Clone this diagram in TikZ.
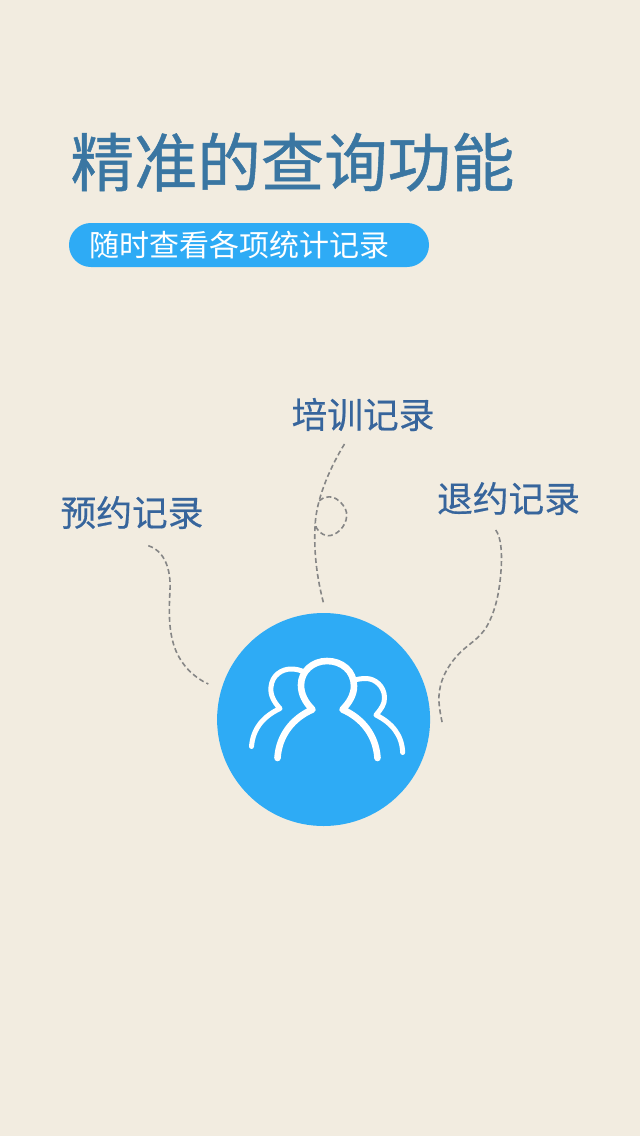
\documentclass[tikz,border=0pt]{standalone}
\usepackage{fontspec}
\setmainfont{Noto Sans CJK SC}
\newfontfamily\titlefont[FakeBold=0.8]{Noto Sans CJK SC}
\newfontfamily\labelfont[FakeBold=0.5]{Noto Sans CJK SC}
\definecolor{bgc}{HTML}{F2ECE0}
\definecolor{bluec}{HTML}{2EABF5}
\definecolor{titlec}{HTML}{3A76A2}
\definecolor{labelc}{HTML}{37659C}
\definecolor{dashc}{HTML}{868686}
\tikzset{
  titletext/.style={text=titlec,font=\titlefont\fontsize{63.4}{64}\selectfont,inner sep=0pt},
  subtext/.style={text=white,font=\fontsize{30}{30}\selectfont,inner sep=0pt},
  labeltext/.style={text=labelc,font=\labelfont\fontsize{35.7}{36}\selectfont,inner sep=0pt},
  dashline/.style={draw=dashc,line width=1.6pt,dash pattern=on 5pt off 3pt,line cap=butt},
  figfront/.style={draw=white,line width=6.6pt,line cap=round,line join=round},
  figback/.style={draw=white,line width=5pt,line cap=round,line join=round},
}
\begin{document}
\begin{tikzpicture}[x=1pt,y=-1pt]
\useasboundingbox (0,0) rectangle (640,1136);
\fill[bgc] (0,0) rectangle (640,1136);
\node[titletext] (title) at (292.5,162) {精准的查询功能};
\fill[bluec,rounded corners=21.9pt] (69,223) rectangle (429,267);
\node[subtext] (sub) at (239,245) {随时查看各项统计记录};
\node[labeltext] (lyuyue) at (132,512.5) {预约记录};
\node[labeltext] (lpeixun) at (363,414.5) {培训记录};
\node[labeltext] (ltuiyue) at (508.5,498.5) {退约记录};
\node[circle,fill=bluec,draw=none,minimum size=213pt,inner sep=0pt] (hub) at (323.6,719.5) {};
% dashed connectors
\coordinate (a1) at (148.3,545.7);
\coordinate (a2) at (208.3,684);
\draw[dashline] (a1) .. controls (165,551) and (171,570) .. (170,590)
  .. controls (169,610) and (168,632) .. (176,651)
  .. controls (183,667) and (195,678) .. (a2);
\coordinate (b1) at (344.5,444);
\coordinate (b2) at (323.5,603);
\draw[dashline] (b1) .. controls (331,466) and (318,495) .. (315.5,520)
  .. controls (313,550) and (317,578) .. (b2);
\draw[dashline] (319.3,500.7) .. controls (324,496) and (333,495) .. (339,501)
  .. controls (345,506) and (347,511) .. (346.7,516)
  .. controls (346,527) and (336,536) .. (328,535.7)
  .. controls (321,535) and (316,530) .. (315,523);
\coordinate (c1) at (495.7,530);
\coordinate (c2) at (442.3,723);
\draw[dashline] (c1) .. controls (501,537) and (502,552) .. (501.3,566)
  .. controls (500,590) and (496,610) .. (487,626)
  .. controls (479,640) and (466,645) .. (456,657)
  .. controls (443,672) and (438,688) .. (439,702)
  .. controls (439.5,710) and (441,717) .. (c2);
% people icon
\draw[figback] (251.5,746.5) .. controls (253,728) and (264,716) .. (280,708.5)
  .. controls (274,702) and (270,695) .. (271,687)
  .. controls (272,675) and (282,669) .. (291,669)
  .. controls (296,669) and (300,670) .. (304,672);
\draw[figback] (402.7,752.5) .. controls (402,735) and (392,723) .. (376,715)
  .. controls (381,709) and (385,704) .. (384.5,697)
  .. controls (384,686) and (375,678.5) .. (366,678.5)
  .. controls (362,678.5) and (358,679) .. (355,680);
\draw[figfront] (277.5,758) .. controls (279,735) and (293,718) .. (312.5,709.5)
  .. controls (305,702) and (301,694) .. (301,685)
  .. controls (301,671) and (313,661) .. (327,661)
  .. controls (342,661) and (354,671) .. (354,686)
  .. controls (354,695) and (349,703) .. (342.5,709.5)
  .. controls (362,718) and (376,735) .. (377.5,758);
\end{tikzpicture}
\end{document}
